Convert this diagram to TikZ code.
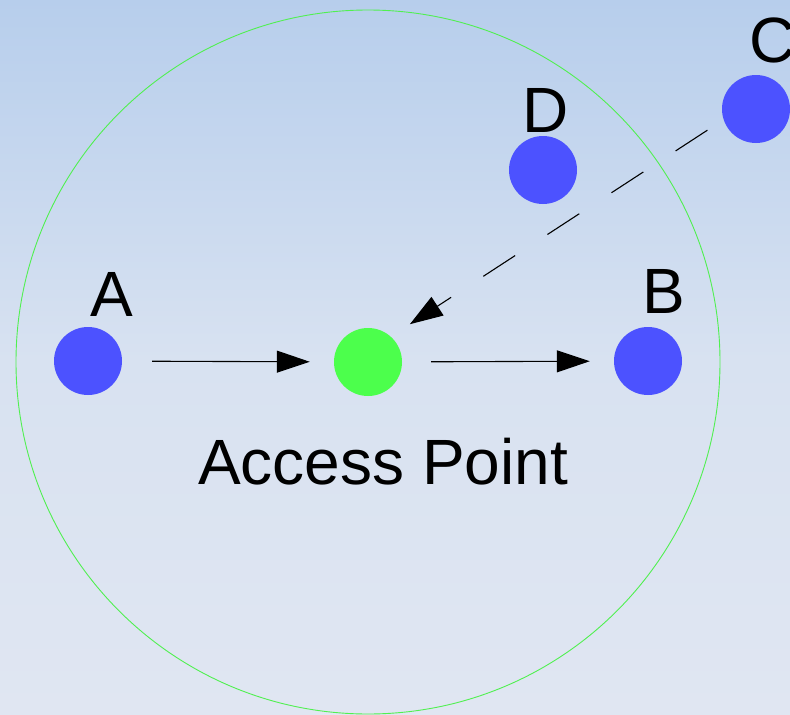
\documentclass[tikz,border=0pt]{standalone}
\usepackage{fontspec}
\setmainfont{Liberation Sans}
\usetikzlibrary{arrows.meta}
\definecolor{bgtop}{RGB}{183,206,236}
\definecolor{bgmid}{RGB}{216,226,241}
\definecolor{bgbot}{RGB}{224,230,242}
\definecolor{station}{RGB}{76,82,255}
\definecolor{apgreen}{RGB}{76,255,76}
\definecolor{rangegreen}{RGB}{80,240,80}
\tikzset{
  station/.style={circle, fill=station, draw=none, minimum size=68pt, inner sep=0pt},
  apnode/.style={circle, fill=apgreen, draw=none, minimum size=68pt, inner sep=0pt},
  lbl/.style={font=\fontsize{64}{64}\selectfont, anchor=base, inner sep=0pt},
  link/.style={line width=1.1pt, -{Triangle[length=33pt,width=22pt]}},
}
\begin{document}
\begin{tikzpicture}[x=1pt,y=-1pt]
\useasboundingbox (0,0) rectangle (790,715);
\clip (0,0) rectangle (790,715);
\shade[top color=bgtop, bottom color=bgmid] (0,0) rectangle (790,360);
\shade[top color=bgmid, bottom color=bgbot] (0,360) rectangle (790,715);
\draw[rangegreen, line width=0.9pt] (368,362) circle[radius=352];
\node[station] (A) at (88,361) {};
\node[apnode] (AP) at (368,362) {};
\node[station] (B) at (648,361) {};
\node[station] (D) at (543,170) {};
\node[station] (C) at (756,109) {};
\node[lbl] (lA) at (112,316) {A};
\node[lbl] (lB) at (664,313) {B};
\node[lbl] (lD) at (546,132) {D};
\node[lbl] (lC) at (773,62) {C};
\node[lbl] (lAP) at (383,484) {Access Point};
\draw[link, shorten <=30pt, shorten >=24pt] (A) -- (AP);
\draw[link, shorten <=29pt, shorten >=24pt] (AP) -- (B);
\draw[link, dash pattern=on 38pt off 38.5pt, shorten <=58pt, shorten >=50pt]
  ([yshift=10.5pt]C.center) -- ([yshift=10.5pt]AP.center);
\end{tikzpicture}
\end{document}
